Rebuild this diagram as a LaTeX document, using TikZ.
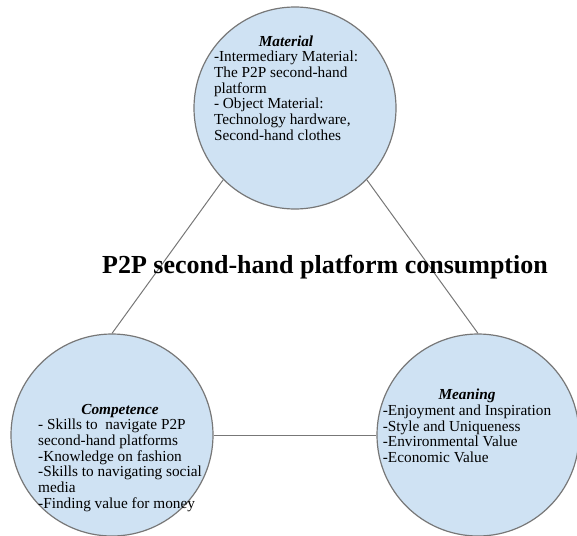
\documentclass[tikz,border=0pt]{standalone}
\usepackage{fontspec}
\setmainfont{Liberation Serif}
\usetikzlibrary{positioning}
\definecolor{pillarblue}{HTML}{CFE2F3}
\definecolor{rimgray}{HTML}{777777}
\newcommand{\pillarhead}[1]{\multicolumn{1}{@{}c@{}}{\textbf{\textit{#1}}}}

\begin{document}
\begin{tikzpicture}[
		x=1pt, y=1pt,
		pillar/.style={circle, draw=rimgray, line width=1.2pt, fill=pillarblue, minimum size=202pt, inner sep=0pt},
		pillartext/.style={font=\fontsize{15.3}{15.7}\selectfont, inner sep=0pt},
		link/.style={draw=rimgray, line width=1pt},
	]
		\useasboundingbox (0,0) rectangle (577,-535);
		
		\node (material) [pillar] at (295,-108) {};
		\node (competence) [pillar] at (112,-435) {};
		\node (meaning) [pillar] at (478,-435) {};
		
		\draw[link] (material.225) -- (competence.north);
		\draw[link] (material.-45) -- (meaning.north);
		\draw[link] (competence.east) -- (meaning.west);
		
		\node (materialtext) [pillartext] at (286,-90) {\begin{tabular}{@{}l@{}}\pillarhead{Material}\\-Intermediary Material:\\The P2P second-hand\\platform\\- Object Material:\\Technology hardware,\\Second-hand clothes\end{tabular}};
		\node (competencetext) [pillartext] at (120,-458) {\begin{tabular}{@{}l@{}}\pillarhead{Competence}\\- Skills to~ navigate P2P\\second-hand platforms\\-Knowledge on fashion\\-Skills to navigating social\\media\\-Finding value for money\end{tabular}};
		\node (meaningtext) [pillartext] at (467,-428) {\begin{tabular}{@{}l@{}}\pillarhead{Meaning}\\-Enjoyment and Inspiration\\-Style and Uniqueness\\-Environmental Value\\-Economic Value\end{tabular}};
		
		\node (topic) [font=\fontsize{26}{30}\selectfont\bfseries] at (325,-267) {P2P second-hand platform consumption};
	\end{tikzpicture}
\end{document}
